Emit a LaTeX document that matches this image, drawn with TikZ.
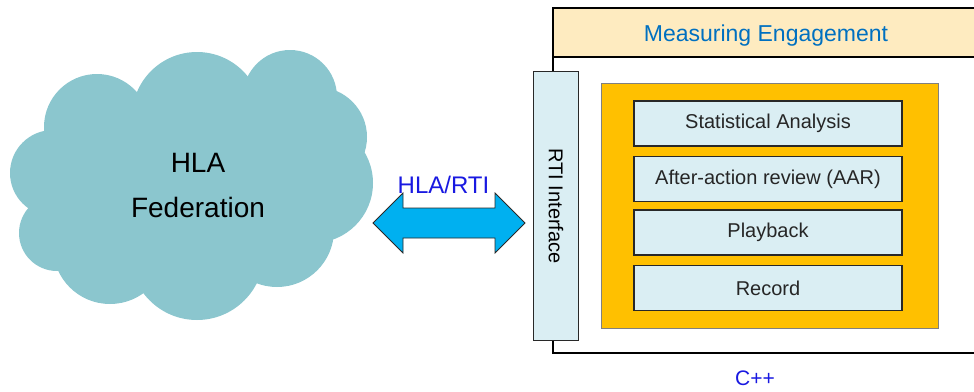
\documentclass[tikz,border=0pt]{standalone}
\usepackage{fontspec}
\setmainfont{Liberation Sans}
\usetikzlibrary{positioning}
\definecolor{cloudteal}{RGB}{139,198,206}
\definecolor{headbeige}{RGB}{254,235,192}
\definecolor{panelorange}{RGB}{255,192,0}
\definecolor{paleblue}{RGB}{218,238,243}
\definecolor{arrowcyan}{RGB}{0,176,240}
\definecolor{titleblue}{RGB}{0,112,192}
\definecolor{labelblue}{RGB}{25,25,225}
\definecolor{edgegray}{RGB}{40,40,40}
\tikzset{
  fs/.style={font=\fontsize{#1}{#1}\selectfont},
  layerbox/.style={draw=edgegray, line width=1.2pt, fill=paleblue,
    minimum width=268pt, minimum height=45pt, inner sep=0pt,
    text=black!85, fs=20},
  bluelabel/.style={text=labelblue, inner sep=0pt, anchor=base},
}
\begin{document}
\begin{tikzpicture}[x=1pt,y=-1pt]
\useasboundingbox (0,0) rectangle (974,391);

% cloud built from overlapping circles
\begin{scope}[fill=cloudteal]
  \fill (190,185) ellipse (140 and 95);
  \fill (97,127) circle (53);
  \fill (197,117) circle (65);
  \fill (290,97) circle (47);
  \fill (317,137) circle (50);
  \fill (313,183) circle (60);
  \fill (277,230) circle (57);
  \fill (197,253) circle (67);
  \fill (110,247) circle (57);
  \fill (57,233) circle (38);
  \fill (53,173) circle (43);
\end{scope}
\node[align=center, font=\fontsize{28}{45}\selectfont, inner sep=0pt] (cloud) at (198,186) {HLA\\Federation};

% outer component frame and its title bar
\node[draw=black, line width=2pt, minimum width=428pt, minimum height=345pt,
      anchor=north west, inner sep=0pt] (frame) at (552,7) {};
\node[draw=black, line width=1.5pt, fill=headbeige, minimum width=428pt,
      minimum height=49pt, anchor=north west, inner sep=0pt] (head) at (552,7) {};
\node[text=titleblue, fs=23, inner sep=0pt, anchor=base] (title) at (766,41) {Measuring Engagement};

% RTI interface strip
\node[draw=edgegray, line width=1.2pt, fill=paleblue, minimum width=45pt,
      minimum height=269pt, anchor=north west, inner sep=0pt] (rti) at (533,71) {};
\node[rotate=-90, fs=20, inner sep=0pt] (rtitext) at (rti.center) {RTI Interface};

% orange panel with the stacked layers
\node[draw=gray, line width=1pt, fill=panelorange, minimum width=337pt,
      minimum height=245pt, anchor=north west, inner sep=0pt] (panel) at (601,83) {};
\node[layerbox] (stat) at (768,123.5) {Statistical Analysis};
\node[layerbox] (aar)  at (768,179)   {After-action review (AAR)};
\node[layerbox] (play) at (768,232.5) {Playback};
\node[layerbox] (rec)  at (768,288)   {Record};

% double block arrow between the federation and the interface
\coordinate (tipL) at (373,223);
\coordinate (tipR) at (525,223);
\draw[draw=edgegray, line width=0.8pt, fill=arrowcyan, line join=miter]
  (tipL) -- ++(30,-30) -- ++(0,15) -- ++(92,0) -- ++(0,-15) -- (tipR)
  -- ++(-30,30) -- ++(0,-15) -- ++(-92,0) -- ++(0,15) -- cycle;
\node[bluelabel, fs=24] (hlarti) at (443.5,193) {HLA/RTI};

% language label under the frame
\node[bluelabel, fs=21] (cpp) at (755,385) {C++};
\end{tikzpicture}
\end{document}
